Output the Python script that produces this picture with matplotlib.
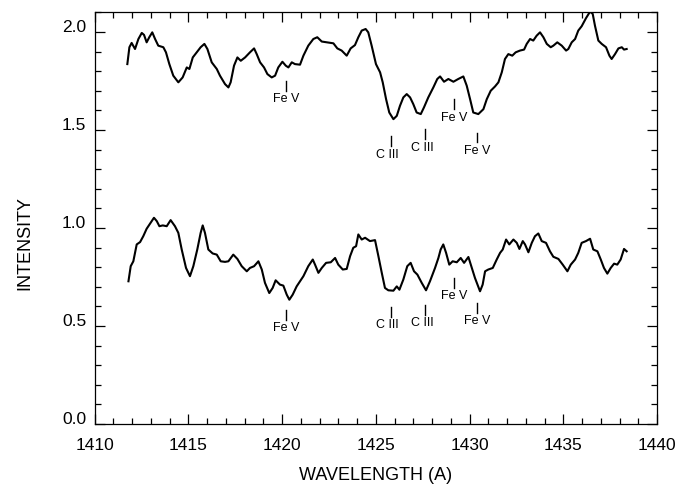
import matplotlib
matplotlib.use("Agg")
import matplotlib.pyplot as plt
from matplotlib.ticker import MultipleLocator, FormatStrFormatter
from matplotlib.transforms import ScaledTranslation

plt.rcParams["font.family"] = ["Liberation Sans", "DejaVu Sans"]

# upper spectrum (wavelength in A, intensity)
top_wave = [1411.75, 1411.86, 1411.98, 1412.16, 1412.34, 1412.52, 1412.64, 1412.78,
            1412.92, 1413.08, 1413.23, 1413.40, 1413.67, 1413.81, 1413.99, 1414.20,
            1414.47, 1414.70, 1414.92, 1415.06, 1415.24, 1415.45, 1415.66, 1415.86,
            1416.02, 1416.25, 1416.52, 1416.69, 1416.96, 1417.14, 1417.26, 1417.44,
            1417.62, 1417.80, 1418.03, 1418.29, 1418.51, 1418.65, 1418.83, 1419.04,
            1419.22, 1419.45, 1419.63, 1419.80, 1420.02, 1420.20, 1420.34, 1420.52,
            1420.69, 1420.96, 1421.14, 1421.40, 1421.67, 1421.88, 1422.12, 1422.38,
            1422.74, 1422.95, 1423.18, 1423.45, 1423.66, 1423.89, 1424.07, 1424.25,
            1424.46, 1424.60, 1424.78, 1425.01, 1425.23, 1425.37, 1425.55, 1425.72,
            1425.94, 1426.12, 1426.29, 1426.47, 1426.65, 1426.83, 1427.00, 1427.18,
            1427.40, 1427.57, 1427.80, 1428.07, 1428.28, 1428.43, 1428.64, 1428.87,
            1429.14, 1429.40, 1429.67, 1429.85, 1430.03, 1430.20, 1430.47, 1430.74,
            1430.92, 1431.13, 1431.36, 1431.54, 1431.72, 1431.89, 1432.07, 1432.28,
            1432.46, 1432.69, 1432.91, 1433.05, 1433.23, 1433.40, 1433.58, 1433.76,
            1433.94, 1434.12, 1434.33, 1434.47, 1434.68, 1434.92, 1435.15, 1435.27,
            1435.45, 1435.63, 1435.80, 1435.98, 1436.21, 1436.43, 1436.57, 1436.69,
            1436.87, 1437.05, 1437.28, 1437.46, 1437.58, 1437.76, 1437.94, 1438.12,
            1438.24, 1438.38]
top_int = [1.836, 1.922, 1.944, 1.913, 1.964, 1.995, 1.985, 1.947,
           1.973, 1.998, 1.964, 1.930, 1.922, 1.896, 1.836, 1.777,
           1.743, 1.768, 1.819, 1.811, 1.870, 1.896, 1.922, 1.939,
           1.913, 1.845, 1.811, 1.777, 1.734, 1.717, 1.743, 1.828,
           1.870, 1.853, 1.870, 1.896, 1.916, 1.887, 1.845, 1.819,
           1.785, 1.768, 1.777, 1.819, 1.848, 1.828, 1.819, 1.845,
           1.836, 1.833, 1.879, 1.930, 1.964, 1.973, 1.951, 1.947,
           1.942, 1.916, 1.905, 1.879, 1.916, 1.933, 1.973, 2.007,
           2.015, 1.998, 1.930, 1.836, 1.794, 1.743, 1.657, 1.589,
           1.555, 1.572, 1.623, 1.666, 1.683, 1.666, 1.632, 1.589,
           1.581, 1.615, 1.666, 1.717, 1.760, 1.773, 1.746, 1.760,
           1.746, 1.760, 1.773, 1.726, 1.657, 1.589, 1.581, 1.606,
           1.657, 1.700, 1.722, 1.743, 1.794, 1.862, 1.887, 1.879,
           1.896, 1.905, 1.910, 1.939, 1.964, 1.956, 1.981, 1.998,
           1.973, 1.939, 1.922, 1.930, 1.947, 1.930, 1.905, 1.913,
           1.947, 1.964, 2.007, 2.029, 2.070, 2.104, 2.092, 2.032,
           1.956, 1.939, 1.922, 1.879, 1.862, 1.887, 1.916, 1.922,
           1.910, 1.913]

# lower spectrum
bot_wave = [1411.81, 1411.93, 1412.07, 1412.25, 1412.43, 1412.60, 1412.78, 1412.99,
            1413.17, 1413.32, 1413.46, 1413.64, 1413.85, 1414.06, 1414.29, 1414.47,
            1414.65, 1414.88, 1415.09, 1415.27, 1415.48, 1415.66, 1415.77, 1415.89,
            1416.07, 1416.30, 1416.52, 1416.73, 1416.96, 1417.14, 1417.40, 1417.62,
            1417.85, 1418.12, 1418.29, 1418.51, 1418.74, 1418.92, 1419.09, 1419.32,
            1419.50, 1419.66, 1419.89, 1420.07, 1420.25, 1420.39, 1420.57, 1420.78,
            1420.96, 1421.14, 1421.40, 1421.64, 1421.76, 1421.94, 1422.12, 1422.35,
            1422.60, 1422.83, 1423.00, 1423.24, 1423.45, 1423.63, 1423.80, 1423.95,
            1424.07, 1424.25, 1424.43, 1424.69, 1424.96, 1425.14, 1425.32, 1425.49,
            1425.67, 1425.94, 1426.12, 1426.26, 1426.47, 1426.68, 1426.86, 1427.04,
            1427.22, 1427.45, 1427.68, 1427.89, 1428.16, 1428.34, 1428.46, 1428.60,
            1428.75, 1428.92, 1429.10, 1429.32, 1429.53, 1429.71, 1429.94, 1430.12,
            1430.29, 1430.56, 1430.70, 1430.83, 1431.00, 1431.24, 1431.45, 1431.63,
            1431.77, 1431.95, 1432.12, 1432.34, 1432.52, 1432.66, 1432.84, 1432.96,
            1433.14, 1433.32, 1433.49, 1433.67, 1433.85, 1434.08, 1434.29, 1434.47,
            1434.74, 1434.97, 1435.22, 1435.40, 1435.63, 1435.80, 1435.98, 1436.21,
            1436.43, 1436.60, 1436.82, 1437.00, 1437.17, 1437.35, 1437.53, 1437.71,
            1437.88, 1438.06, 1438.24, 1438.38]
bot_int = [0.728, 0.805, 0.830, 0.916, 0.928, 0.958, 0.996, 1.026,
           1.052, 1.035, 1.009, 1.013, 1.009, 1.040, 1.009, 0.975,
           0.890, 0.796, 0.754, 0.805, 0.890, 0.975, 1.013, 0.975,
           0.890, 0.870, 0.864, 0.830, 0.827, 0.830, 0.864, 0.842,
           0.805, 0.779, 0.796, 0.805, 0.830, 0.788, 0.720, 0.668,
           0.694, 0.733, 0.711, 0.706, 0.660, 0.634, 0.660, 0.702,
           0.728, 0.754, 0.805, 0.839, 0.813, 0.771, 0.796, 0.822,
           0.825, 0.847, 0.813, 0.788, 0.791, 0.856, 0.899, 0.907,
           0.967, 0.941, 0.950, 0.933, 0.938, 0.856, 0.771, 0.694,
           0.682, 0.680, 0.702, 0.685, 0.737, 0.805, 0.822, 0.779,
           0.762, 0.720, 0.682, 0.728, 0.796, 0.847, 0.890, 0.916,
           0.873, 0.813, 0.830, 0.825, 0.847, 0.822, 0.852, 0.796,
           0.745, 0.677, 0.711, 0.779, 0.788, 0.796, 0.839, 0.873,
           0.890, 0.941, 0.916, 0.941, 0.924, 0.893, 0.933, 0.916,
           0.876, 0.924, 0.958, 0.972, 0.933, 0.924, 0.881, 0.853,
           0.842, 0.813, 0.779, 0.813, 0.839, 0.873, 0.924, 0.933,
           0.945, 0.890, 0.881, 0.839, 0.796, 0.767, 0.796, 0.818,
           0.813, 0.839, 0.893, 0.881]

# line identifications: label, wavelength, bottom of marker (top / bottom spectrum)
line_names = ["Fe V", "C III", "C III", "Fe V", "Fe V"]
line_wave = [1420.22, 1425.80, 1427.63, 1429.17, 1430.42]
mark_top = [1.698, 1.417, 1.453, 1.606, 1.437]
mark_bot = [0.532, 0.547, 0.558, 0.696, 0.568]

fig = plt.figure(figsize=(6.81, 4.86), dpi=100)
ax = fig.add_axes([0.1388, 0.1276, 0.826, 0.847])

ax.plot(top_wave, top_int, color="black", lw=1.5, solid_joinstyle="round")
ax.plot(bot_wave, bot_int, color="black", lw=1.5, solid_joinstyle="round")

mark_len = 0.05
for name, w, yt, yb in zip(line_names, line_wave, mark_top, mark_bot):
    dx = -0.16 if name.startswith("C") else 0.0
    for y0 in (yt, yb):
        ax.plot([w, w], [y0, y0 + mark_len], color="black", lw=1.0)
        ax.text(w + dx, y0 - 0.012, name, ha="center", va="top", fontsize=9)

ax.set_xlim(1410, 1440)
ax.set_ylim(0, 2.1)
ax.xaxis.set_major_locator(MultipleLocator(5))
ax.xaxis.set_minor_locator(MultipleLocator(1))
ax.yaxis.set_major_locator(MultipleLocator(0.5))
ax.yaxis.set_minor_locator(MultipleLocator(0.1))
ax.yaxis.set_major_formatter(FormatStrFormatter("%.1f"))

ax.tick_params(which="both", direction="in", top=True, right=True, width=0.9)
ax.tick_params(which="major", length=7, labelsize=12.5)
ax.tick_params(which="minor", length=4)
ax.tick_params(axis="x", pad=10)
ax.tick_params(axis="y", pad=6)
for sp in ax.spines.values():
    sp.set_linewidth(0.9)

# y tick labels sit a little above their ticks in the original
shift = ScaledTranslation(0, 6 / 100, fig.dpi_scale_trans)
for lab in ax.get_yticklabels():
    lab.set_transform(lab.get_transform() + shift)

fig.text(376 / 681, 1 - 475 / 486, "WAVELENGTH (A)", ha="center", va="center", fontsize=13)
fig.text(25 / 681, 0.5, "INTENSITY", ha="center", va="center", rotation=90, fontsize=13)

fig.savefig("out.png", dpi=100)
